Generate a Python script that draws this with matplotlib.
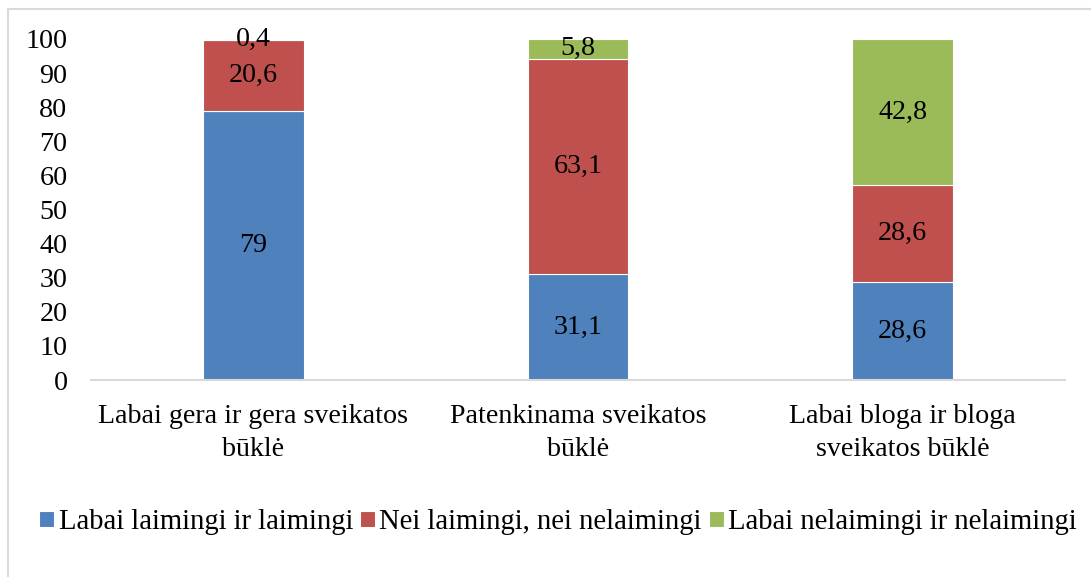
import matplotlib
matplotlib.use("Agg")
import matplotlib.pyplot as plt
import numpy as np
from matplotlib.lines import Line2D

categories = ["Labai gera ir gera sveikatos\nbūklė",
              "Patenkinama sveikatos\nbūklė",
              "Labai bloga ir bloga\nsveikatos būklė"]
series_names = ["Labai laimingi ir laimingi",
                "Nei laimingi, nei nelaimingi",
                "Labai nelaimingi ir nelaimingi"]
happy = [79, 31.1, 28.6]
neutral = [20.6, 63.1, 28.6]
unhappy = [0.4, 5.8, 42.8]
label_happy = ["79", "31,1", "28,6"]
label_neutral = ["20,6", "63,1", "28,6"]
label_unhappy = ["0,4", "5,8", "42,8"]
yticks = [0, 10, 20, 30, 40, 50, 60, 70, 80, 90, 100]

colors = ["#4F81BD", "#C0504D", "#9BBB59"]

plt.rcParams['font.family'] = ['Liberation Serif', 'DejaVu Serif']
FS = 20.2
LFS = 20.6

fig = plt.figure(figsize=(10.91, 5.77), dpi=100)
ax = fig.add_axes([91/1091, 1-380/577, (1065-91)/1091, (380-39)/577])

x = np.arange(len(categories))
bottoms = np.zeros(len(categories))
all_vals = [happy, neutral, unhappy]
all_labels = [label_happy, label_neutral, label_unhappy]
for vals, labs, col, name in zip(all_vals, all_labels, colors, series_names):
    vals = np.array(vals)
    ax.bar(x, vals, bottom=bottoms, width=0.31, color=col,
           edgecolor="white", linewidth=0.8, label=name)
    for xi, b, v, lab in zip(x, bottoms, vals, labs):
        ax.text(xi, b + v/2, lab, ha="center", va="center", fontsize=FS, color="black")
    bottoms = bottoms + vals

ax.set_xlim(-0.5, 2.5)
ax.set_ylim(0, 100)
ax.set_yticks(yticks)
ax.set_xticks(x)
ax.set_xticklabels(categories, fontsize=FS, linespacing=1.45)
ax.tick_params(axis="y", length=0, pad=17, labelsize=FS)
ax.tick_params(axis="x", length=0, pad=17)
for s in ["top", "right", "left"]:
    ax.spines[s].set_visible(False)
ax.spines["bottom"].set_color("#D9D9D9")
ax.spines["bottom"].set_linewidth(1.5)

fig.legend(loc="center", bbox_to_anchor=(558/1091, 1-522/577), ncol=3,
           frameon=False, fontsize=LFS, handlelength=0.52, handleheight=0.52,
           handletextpad=0.15, columnspacing=0.25, borderaxespad=0)

# outer border (top and left visible)
fig.add_artist(Line2D([8/1091, 1], [1-9/577, 1-9/577], color="#D9D9D9", lw=1.5,
                      transform=fig.transFigure))
fig.add_artist(Line2D([8/1091, 8/1091], [0, 1-9/577], color="#D9D9D9", lw=1.5,
                      transform=fig.transFigure))

fig.savefig("out.png", dpi=100, facecolor="white")
